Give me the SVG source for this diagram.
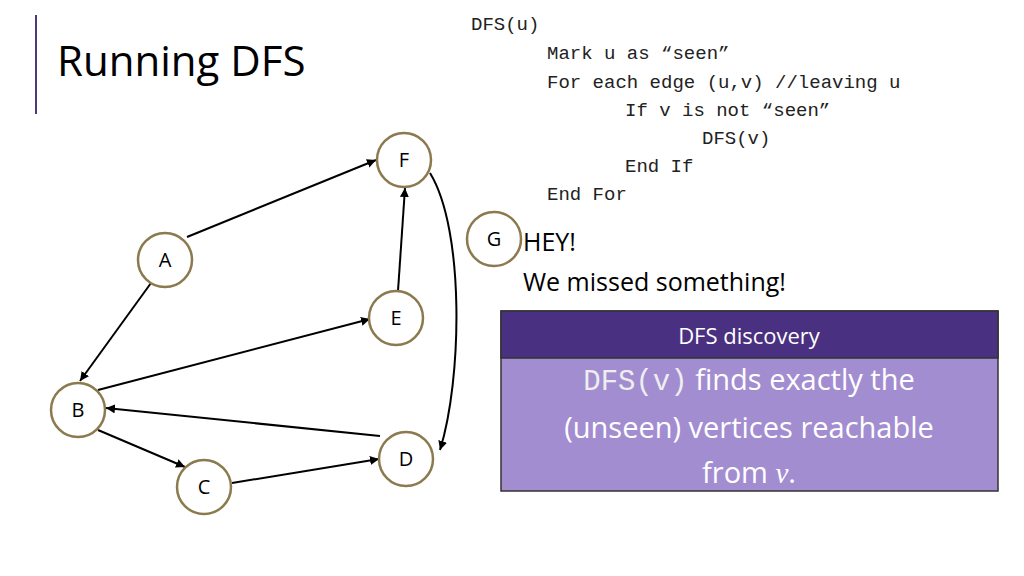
<svg xmlns="http://www.w3.org/2000/svg" width="1024" height="576" viewBox="0 0 1024 576">
<defs>
<marker id="ah" viewBox="0 0 10 10" refX="10" refY="5" markerWidth="9" markerHeight="9" markerUnits="userSpaceOnUse" orient="auto"><path d="M0,0 L10,5 L0,10 z" fill="#000"/></marker>
<style>
.n{fill:#fff;stroke:#8b7a4e;stroke-width:2.5}
.nt{font-family:"Open Sans","Liberation Sans",sans-serif;font-size:20px;text-anchor:middle;fill:#000}
.e{stroke:#000;stroke-width:2;fill:none;marker-end:url(#ah)}
.code{font-family:"Liberation Mono",monospace;font-size:19px;fill:#222}
.t{font-family:"Open Sans","Liberation Sans",sans-serif;fill:#000}
.w{font-family:"Open Sans","Liberation Sans",sans-serif;fill:#fff;text-anchor:middle}
</style>
</defs>
<rect width="1024" height="576" fill="#fff"/>
<line x1="36" y1="15" x2="36" y2="114" stroke="#4b3a7a" stroke-width="2"/>
<text x="57" y="76" class="t" font-size="42" fill="#222">Running DFS</text>
<g id="code">
<text x="471" y="30" class="code">DFS(u)</text>
<text x="547" y="59" class="code">Mark u as “seen”</text>
<text x="547" y="88" class="code">For each edge (u,v) //leaving u</text>
<text x="625" y="116" class="code">If v is not “seen”</text>
<text x="702" y="144" class="code">DFS(v)</text>
<text x="625" y="172" class="code">End If</text>
<text x="547" y="200" class="code">End For</text>
</g>
<g id="connectors">
<line class="e" x1="187" y1="237" x2="376" y2="160"/>
<line class="e" x1="151" y1="283" x2="80" y2="381"/>
<line class="e" x1="98" y1="390" x2="370" y2="319"/>
<line class="e" x1="398" y1="291" x2="405" y2="188"/>
<path class="e" d="M430,173 C465,230 462,380 440,450"/>
<line class="e" x1="380" y1="436" x2="106" y2="408"/>
<line class="e" x1="98" y1="430" x2="185" y2="467"/>
<line class="e" x1="232" y1="483" x2="379" y2="459"/>
</g>
<g id="node-F"><circle class="n" cx="404" cy="160" r="27"/><text class="nt" x="404" y="167">F</text></g>
<g id="node-A"><circle class="n" cx="165" cy="260" r="27"/><text class="nt" x="165" y="267">A</text></g>
<g id="node-E"><circle class="n" cx="396" cy="318" r="27"/><text class="nt" x="396" y="325">E</text></g>
<g id="node-B"><circle class="n" cx="78" cy="410" r="27"/><text class="nt" x="78" y="417">B</text></g>
<g id="node-D"><circle class="n" cx="406" cy="459" r="27"/><text class="nt" x="406" y="466">D</text></g>
<g id="node-C"><circle class="n" cx="204" cy="487" r="27"/><text class="nt" x="204" y="494">C</text></g>
<g id="node-G"><circle class="n" cx="494" cy="239" r="27"/><text class="nt" x="494" y="246">G</text></g>
<text x="523" y="251" class="t" font-size="25">HEY!</text>
<text x="523" y="291" class="t" font-size="25">We missed something!</text>
<g id="box">
<rect x="501" y="311" width="497" height="180" fill="#a38dd1" stroke="#333" stroke-width="1.5"/>
<rect x="501" y="311" width="497" height="47" fill="#4a3080" stroke="#333" stroke-width="1.5"/>
<text x="749" y="344" class="w" font-size="22">DFS discovery</text>
<text x="749" y="390" class="w" font-size="29"><tspan font-family="Liberation Mono,monospace" fill="#eee">DFS(v)</tspan> finds exactly the</text>
<text x="749" y="438" class="w" font-size="29">(unseen) vertices reachable</text>
<text x="749" y="483" class="w" font-size="29">from <tspan font-family="Liberation Serif,serif" font-style="italic">v</tspan>.</text>
</g>
</svg>
